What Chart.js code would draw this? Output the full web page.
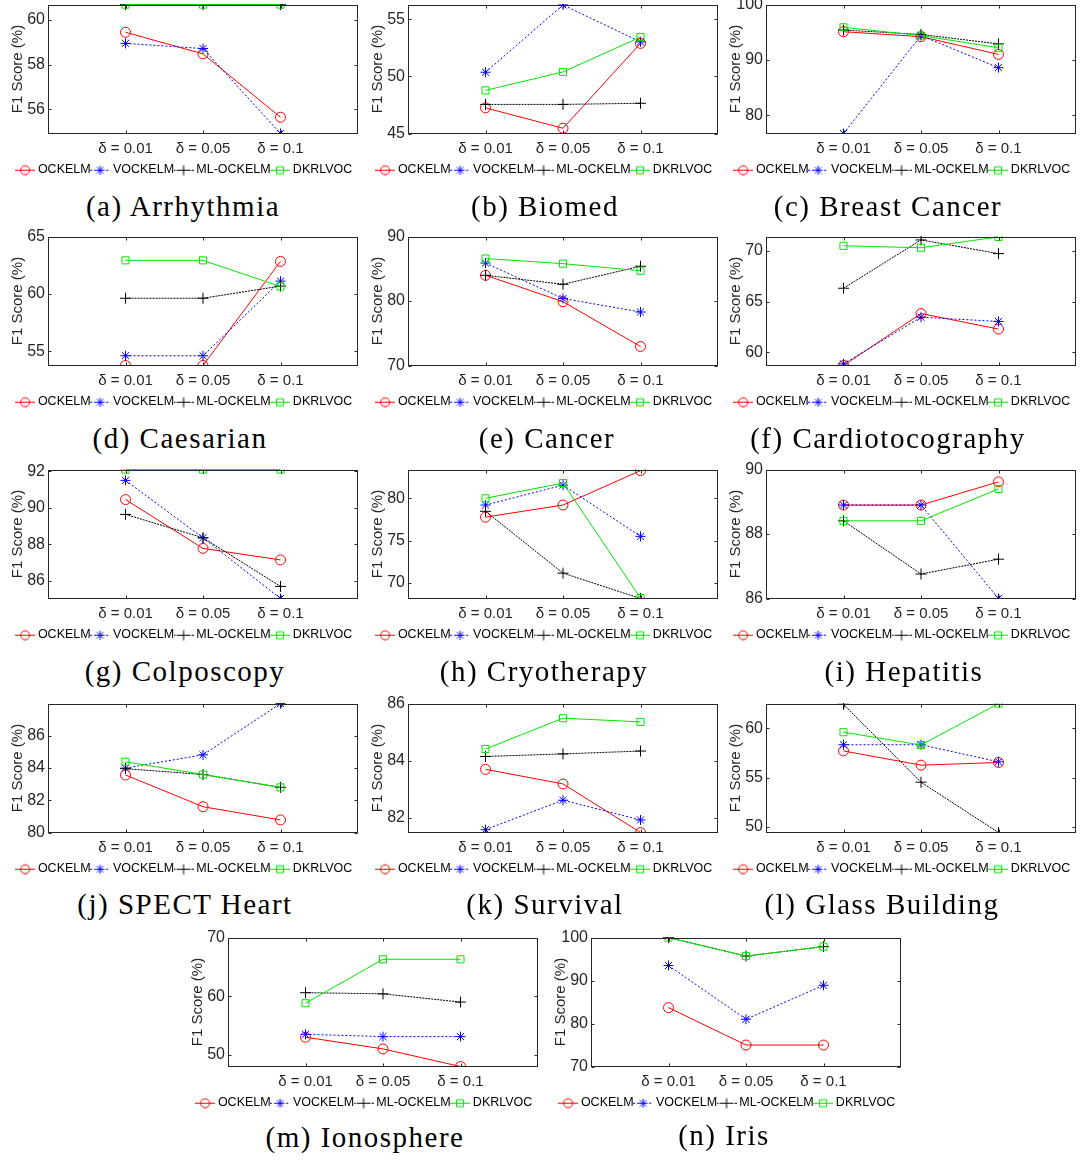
<!DOCTYPE html>
<html lang="en">
<head>
<meta charset="UTF-8" />
<title>F1 Score per dataset</title>
<script src="https://cdn.jsdelivr.net/npm/chart.js"></script>
<style>
  body { margin: 0; background: #fff; }
  #page { position: relative; width: 1081px; height: 1160px; overflow: hidden; background: #fff; }
  .panel { position: absolute; }
  .caption {
    position: absolute; width: 400px; text-align: center; line-height: 32px;
    font-family: "Liberation Serif", "Times New Roman", serif; font-size: 29px;
    letter-spacing: 1.5px; color: #000; white-space: nowrap;
  }
</style>
</head>
<body>
<div id="page"></div>
<script>
  // x categories and legend names
  const deltaLabels = ['δ = 0.01', 'δ = 0.05', 'δ = 0.1'];
  const seriesNames = ['OCKELM', 'VOCKELM', 'ML-OCKELM', 'DKRLVOC'];
  const captions = [
    '(a) Arrhythmia', '(b) Biomed', '(c) Breast Cancer',
    '(d) Caesarian', '(e) Cancer', '(f) Cardiotocography',
    '(g) Colposcopy', '(h) Cryotherapy', '(i) Hepatitis',
    '(j) SPECT Heart', '(k) Survival', '(l) Glass Building',
    '(m) Ionosphere', '(n) Iris'
  ];

  // F1 score (%) per dataset, one triple per delta
  const ockelm = [
    [59.45, 58.48, 55.64], [47.25, 45.46, 52.9], [95.1, 94.2, 91.0],
    [53.77, 53.77, 62.84], [84.0, 79.9, 72.95], [58.7, 63.83, 62.3],
    [90.45, 87.78, 87.15], [77.77, 79.2, 83.27], [88.9, 88.9, 89.62],
    [83.57, 81.6, 80.78], [83.7, 83.19, 81.49], [57.7, 56.26, 56.53],
    [53.0, 51.0, 48.0], [83.7, 75.0, 75.0]
  ];
  const vockelm = [
    [58.95, 58.72, 54.91], [50.37, 56.27, 53.03], [76.7, 94.4, 88.6],
    [54.62, 54.62, 61.12], [85.9, 80.4, 78.3], [58.86, 63.47, 63.05],
    [91.5, 88.36, 85.04], [79.2, 81.55, 75.5], [88.9, 88.9, 86.0],
    [84.0, 84.82, 88.0], [81.59, 82.62, 81.93], [58.33, 58.33, 56.6],
    [53.5, 53.1, 53.1], [93.5, 81.0, 88.9]
  ];
  const mlOckelm = [
    [60.69, 60.69, 60.69], [47.55, 47.55, 47.65], [95.4, 94.6, 92.9],
    [59.63, 59.63, 60.69], [84.0, 82.6, 85.4], [66.33, 71.1, 69.75],
    [89.64, 88.36, 85.7], [78.46, 71.15, 68.15], [88.41, 86.76, 87.22],
    [83.96, 83.6, 82.8], [84.15, 84.24, 84.34], [62.43, 54.53, 49.43],
    [60.6, 60.4, 59.0], [100, 95.7, 97.9]
  ];
  const dkrlvoc = [
    [60.69, 60.69, 60.69], [48.78, 50.4, 53.45], [95.9, 94.4, 92.2],
    [62.93, 62.93, 60.65], [86.6, 85.8, 84.7], [70.52, 70.33, 71.4],
    [92.09, 92.09, 92.09], [80.0, 81.8, 68.2], [88.41, 88.41, 89.4],
    [84.39, 83.6, 82.8], [84.41, 85.49, 85.36], [59.6, 58.3, 62.5],
    [58.8, 66.3, 66.3], [100, 95.7, 97.9]
  ];

  // y axis limits and tick labels per dataset
  const yMin = [54.91, 45, 76.7, 53.77, 70, 58.7, 85.04, 68.15, 86, 80, 81.49, 49.43, 48, 70];
  const yMax = [60.69, 56.3, 100, 65, 90, 71.43, 92.09, 83.39, 90, 88, 86, 62.5, 70, 100];
  const yTicks = [
    [56, 58, 60], [45, 50, 55], [80, 90, 100],
    [55, 60, 65], [70, 80, 90], [60, 65, 70],
    [86, 88, 90, 92], [70, 75, 80], [86, 88, 90],
    [80, 82, 84, 86], [82, 84, 86], [50, 55, 60],
    [50, 60, 70], [70, 80, 90, 100]
  ];

  // layout: top-left corner of each axes box, caption centre
  const boxPos = [
    [48, 2], [408, 2], [766, 2],
    [48, 234], [408, 234], [766, 234],
    [48, 467], [408, 467], [766, 467],
    [48, 701], [408, 701], [766, 701],
    [228, 935], [591, 935]
  ];
  const capPos = [
    [183, 209], [545, 209], [888, 209],
    [180, 441], [547, 441], [888, 441],
    [185, 674], [544, 674], [904, 674],
    [185, 907], [545, 907], [882, 907],
    [365, 1140], [724, 1138]
  ];

  const BOX_W = 310, BOX_H = 131;
  const Y_AXIS_W = 48, RIGHT_W = 13, PAD_TOP = 10, X_AXIS_H = 27, LEGEND_H = 26;
  const AXIS_COLOR = '#262626';
  const SANS = '"Liberation Sans", Arial, Helvetica, sans-serif';

  const COLORS = ['#ff0000', '#0000ff', '#000000', '#00e600'];
  const DASHES = [[], [2, 2], [2, 1], []];
  const MARKERS = ['circle', 'star', 'cross', 'rect'];
  const RADII = [5, 5, 5.5, 5];

  // small line+marker swatch used as legend symbol
  function legendIcon(s) {
    const c = document.createElement('canvas');
    c.width = 20; c.height = 12;
    const g = c.getContext('2d');
    g.strokeStyle = COLORS[s];
    g.lineWidth = 1;
    g.setLineDash(DASHES[s]);
    g.beginPath(); g.moveTo(0, 6.5); g.lineTo(20, 6.5); g.stroke();
    g.setLineDash([]);
    const cx = 10, cy = 6.5;
    g.beginPath();
    if (MARKERS[s] === 'circle') {
      g.arc(cx, cy, 4.5, 0, Math.PI * 2);
    } else if (MARKERS[s] === 'star') {
      for (let k = 0; k < 4; k++) {
        const a = k * Math.PI / 4;
        g.moveTo(cx - 4.5 * Math.cos(a), cy - 4.5 * Math.sin(a));
        g.lineTo(cx + 4.5 * Math.cos(a), cy + 4.5 * Math.sin(a));
      }
    } else if (MARKERS[s] === 'cross') {
      g.moveTo(cx - 5, cy); g.lineTo(cx + 5, cy);
      g.moveTo(cx, cy - 5); g.lineTo(cx, cy + 5);
    } else {
      g.rect(cx - 3.5, cy - 3.5, 7, 7);
    }
    g.stroke();
    return c;
  }
  const icons = seriesNames.map((_, s) => legendIcon(s));

  // box outline with inward tick marks, drawn over the lines
  const matlabBox = {
    id: 'matlabBox',
    afterDatasetsDraw(chart) {
      const { ctx, chartArea: a, scales } = chart;
      const L = Math.round(a.left) + 0.5, R = Math.round(a.right) - 0.5;
      const T = Math.round(a.top) + 0.5, B = Math.round(a.bottom) - 0.5;
      ctx.save();
      ctx.strokeStyle = AXIS_COLOR;
      ctx.lineWidth = 1;
      ctx.strokeRect(L, T, R - L, B - T);
      ctx.beginPath();
      scales.y.ticks.forEach(t => {
        const py = Math.round(scales.y.getPixelForValue(t.value)) + 0.5;
        ctx.moveTo(L, py); ctx.lineTo(L + 3, py);
        ctx.moveTo(R, py); ctx.lineTo(R - 3, py);
      });
      scales.x.ticks.forEach(t => {
        const px = Math.round(scales.x.getPixelForValue(t.value)) + 0.5;
        ctx.moveTo(px, B); ctx.lineTo(px, B - 3);
        ctx.moveTo(px, T); ctx.lineTo(px, T + 3);
      });
      ctx.stroke();
      ctx.restore();
    }
  };

  const page = document.getElementById('page');
  const allSeries = [ockelm, vockelm, mlOckelm, dkrlvoc];

  function makePanel(i) {
    const [bx, by] = boxPos[i];
    const canvas = document.createElement('canvas');
    canvas.className = 'panel';
    canvas.width = Y_AXIS_W + BOX_W + RIGHT_W;
    canvas.height = PAD_TOP + BOX_H + X_AXIS_H + LEGEND_H;
    canvas.style.left = (bx - Y_AXIS_W) + 'px';
    canvas.style.top = (by - PAD_TOP) + 'px';
    page.appendChild(canvas);

    const datasets = allSeries.map((series, s) => ({
      label: seriesNames[s],
      data: series[i].map((v, k) => ({ x: k + 1, y: v })),
      borderColor: COLORS[s],
      backgroundColor: 'transparent',
      borderWidth: 1,
      borderDash: DASHES[s],
      pointStyle: MARKERS[s],
      pointRadius: RADII[s],
      pointBorderWidth: 1,
      pointBorderColor: COLORS[s],
      pointBackgroundColor: 'transparent',
      tension: 0,
      clip: 0.5,
      order: 4 - s
    }));

    new Chart(canvas, {
      type: 'line',
      data: { datasets },
      plugins: [matlabBox],
      options: {
        responsive: false,
        animation: false,
        devicePixelRatio: 1,
        layout: { padding: { top: PAD_TOP, left: 0, right: 0, bottom: 0 } },
        plugins: {
          tooltip: { enabled: false },
          legend: {
            position: 'bottom',
            align: 'center',
            labels: {
              usePointStyle: true,
              pointStyleWidth: 13,
              padding: 3,
              color: '#000',
              font: { family: SANS, size: 12.5 },
              generateLabels: chart => chart.data.datasets.map((ds, s) => ({
                text: ds.label,
                pointStyle: icons[s],
                datasetIndex: s,
                hidden: false,
                fillStyle: 'transparent',
                strokeStyle: 'transparent',
                lineWidth: 0,
                fontColor: '#000'
              }))
            }
          }
        },
        scales: {
          x: {
            type: 'linear',
            min: 0,
            max: 4,
            grid: { display: false, drawTicks: false },
            border: { display: false },
            afterBuildTicks: axis => { axis.ticks = deltaLabels.map((_, k) => ({ value: k + 1 })); },
            afterFit: axis => { axis.height = X_AXIS_H; },
            ticks: {
              autoSkip: false,
              maxRotation: 0,
              padding: 6,
              color: AXIS_COLOR,
              font: { family: SANS, size: 15 },
              callback: (v, k) => deltaLabels[k]
            }
          },
          y: {
            type: 'linear',
            position: 'left',
            min: yMin[i],
            max: yMax[i],
            grid: { display: false, drawTicks: false },
            border: { display: false },
            afterBuildTicks: axis => { axis.ticks = yTicks[i].map(v => ({ value: v })); },
            afterFit: axis => { axis.width = Y_AXIS_W; },
            ticks: {
              padding: 3,
              color: AXIS_COLOR,
              font: { family: SANS, size: 16 },
              callback: v => String(v)
            },
            title: {
              display: true,
              text: 'F1 Score (%)',
              color: AXIS_COLOR,
              font: { family: SANS, size: 15 },
              padding: { top: 9, bottom: 0 }
            }
          },
          yr: {
            type: 'linear',
            position: 'right',
            display: true,
            grid: { display: false, drawTicks: false },
            border: { display: false },
            ticks: { display: false },
            afterFit: axis => { axis.width = RIGHT_W; }
          }
        }
      }
    });

    const cap = document.createElement('div');
    cap.className = 'caption';
    cap.textContent = captions[i];
    cap.style.left = (capPos[i][0] - 200) + 'px';
    cap.style.top = (capPos[i][1] - 19) + 'px';
    page.appendChild(cap);
  }

  captions.forEach((_, i) => makePanel(i));
</script>
</body>
</html>
